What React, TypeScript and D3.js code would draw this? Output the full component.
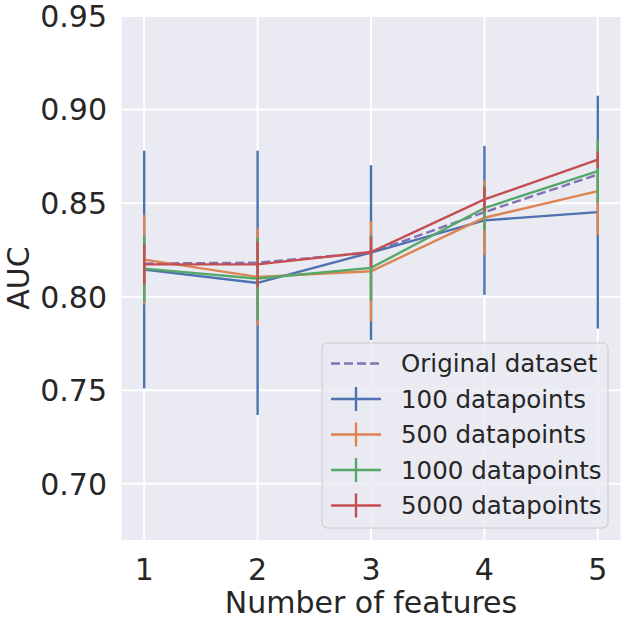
import * as d3 from "d3"

// Number of features on the x axis
const features = [1, 2, 3, 4, 5]

// AUC on the original dataset (dashed line)
const originalAuc = [0.8177, 0.8182, 0.8236, 0.8452, 0.8653]

// mean AUC and error half-width for each synthetic size
const auc100 = [0.8145, 0.8074, 0.8236, 0.8408, 0.8452]
const err100 = [0.0635, 0.0706, 0.0467, 0.0398, 0.0622]
const auc500 = [0.8198, 0.8106, 0.8136, 0.8422, 0.8564]
const err500 = [0.024, 0.026, 0.0268, 0.02, 0.0236]
const auc1000 = [0.815, 0.8097, 0.8154, 0.8474, 0.8671]
const err1000 = [0.018, 0.022, 0.0173, 0.0119, 0.0167]
const auc5000 = [0.8173, 0.8173, 0.8239, 0.852, 0.8732]
const err5000 = [0.0107, 0.012, 0.008, 0.0066, 0.0044]

const seriesLabels = ["100 datapoints", "500 datapoints", "1000 datapoints", "5000 datapoints"]
const yTicks = [0.7, 0.75, 0.8, 0.85, 0.9, 0.95]

const series = [
  { label: seriesLabels[0], mean: auc100, err: err100, color: "#4c72b0" },
  { label: seriesLabels[1], mean: auc500, err: err500, color: "#dd8452" },
  { label: seriesLabels[2], mean: auc1000, err: err1000, color: "#55a868" },
  { label: seriesLabels[3], mean: auc5000, err: err5000, color: "#c44e52" },
]

const width = 624
const height = 620
const font = "'DejaVu Sans', sans-serif"
const textColor = "#262626"
const lw = 2.4

export default function App() {
  const left = 121.5
  const right = 620.5
  const top = 16
  const bottom = 540

  const x = d3.scaleLinear().domain([0.8, 5.2]).range([left, right])
  const y = d3.scaleLinear().domain([0.67, 0.95]).range([bottom, top])

  const line = d3
    .line<number>()
    .x((_, i) => x(features[i]))
    .y(d => y(d))

  const legendX = 322
  const legendY = 343
  const rowY = (i: number) => 363.5 + i * 35.5

  return (
    <svg
      width={width}
      height={height}
      style={{ position: "absolute", left: 0, top: 0, background: "white" }}
      fontFamily={font}
    >
      {/* plot background */}
      <rect x={left} y={top} width={right - left} height={bottom - top} fill="#eaeaf2" />

      {/* grid */}
      {features.map(f => (
        <line key={"gx" + f} x1={x(f)} x2={x(f)} y1={top} y2={bottom} stroke="white" strokeWidth={2} />
      ))}
      {yTicks.map(t => (
        <line key={"gy" + t} x1={left} x2={right} y1={y(t)} y2={y(t)} stroke="white" strokeWidth={2} />
      ))}

      {/* original dataset */}
      <path
        d={line(originalAuc) || ""}
        fill="none"
        stroke="#8172b3"
        strokeWidth={lw}
        strokeDasharray="9,4"
      />

      {/* error bars + lines */}
      {series.map(s => (
        <g key={s.label}>
          <path d={line(s.mean) || ""} fill="none" stroke={s.color} strokeWidth={lw} />
          {s.mean.map((m, i) => (
            <line
              key={i}
              x1={x(features[i])}
              x2={x(features[i])}
              y1={y(m - s.err[i])}
              y2={y(m + s.err[i])}
              stroke={s.color}
              strokeWidth={lw}
            />
          ))}
        </g>
      ))}

      {/* x ticks */}
      {features.map(f => (
        <text key={"tx" + f} x={x(f)} y={580} textAnchor="middle" fontSize={30} fill={textColor}>
          {f}
        </text>
      ))}
      {/* y ticks */}
      {yTicks.map(t => (
        <text
          key={"ty" + t}
          x={107}
          y={y(t)}
          dy="0.36em"
          textAnchor="end"
          fontSize={30}
          fill={textColor}
        >
          {t.toFixed(2)}
        </text>
      ))}

      {/* axis labels */}
      <text x={(left + right) / 2} y={613} textAnchor="middle" fontSize={30} fill={textColor}>
        Number of features
      </text>
      <text
        transform={`translate(29,${(top + bottom) / 2}) rotate(-90)`}
        textAnchor="middle"
        fontSize={30}
        fill={textColor}
      >
        AUC
      </text>

      {/* legend */}
      <rect
        x={legendX}
        y={legendY}
        width={286}
        height={185}
        rx={5}
        fill="#eaeaf2"
        fillOpacity={0.8}
        stroke="#cccccc"
        strokeWidth={1}
      />
      <line
        x1={331}
        x2={381}
        y1={rowY(0)}
        y2={rowY(0)}
        stroke="#8172b3"
        strokeWidth={lw}
        strokeDasharray="9,4"
      />
      <text x={401} y={rowY(0)} dy="0.36em" fontSize={24.5} fill={textColor}>
        Original dataset
      </text>
      {series.map((s, i) => (
        <g key={"lg" + s.label}>
          <line x1={331} x2={381} y1={rowY(i + 1)} y2={rowY(i + 1)} stroke={s.color} strokeWidth={lw} />
          <line x1={356} x2={356} y1={rowY(i + 1) - 12} y2={rowY(i + 1) + 12} stroke={s.color} strokeWidth={lw} />
          <text x={401} y={rowY(i + 1)} dy="0.36em" fontSize={24.5} fill={textColor}>
            {s.label}
          </text>
        </g>
      ))}
    </svg>
  )
}
